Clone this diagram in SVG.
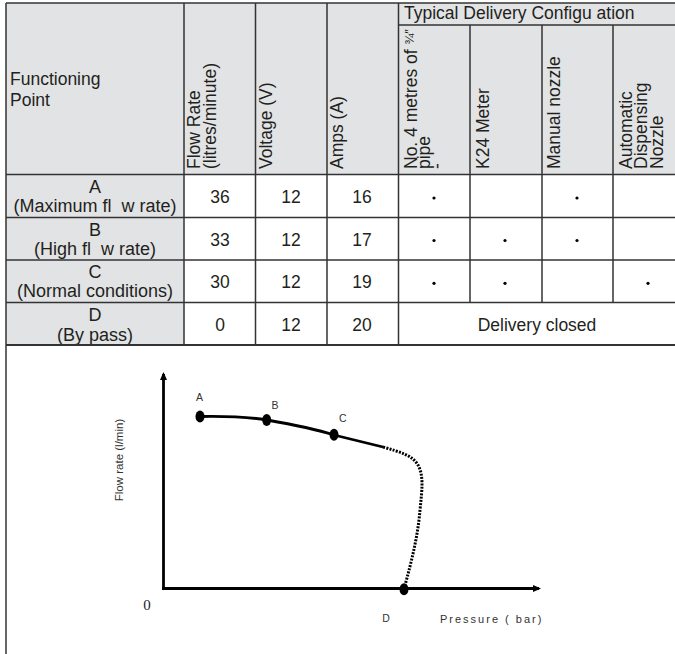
<svg xmlns="http://www.w3.org/2000/svg" width="675" height="654" viewBox="0 0 675 654">
<defs>
<style>
.t{font-family:"Liberation Sans",Arial,sans-serif;font-size:17.5px;fill:#231f20}
.r{font-size:18px}
.c{text-anchor:middle}
.g{stroke:#333;stroke-width:1.5;fill:none}
.ax{stroke:#000;stroke-width:2.8;fill:none}
.lbl{font-family:"Liberation Sans",Arial,sans-serif;font-size:10.5px;fill:#333;text-anchor:middle}
.dot{fill:#000}
</style>
<marker id="arr" markerWidth="8" markerHeight="8" refX="6" refY="4" orient="auto" markerUnits="userSpaceOnUse">
<path d="M0,0.5 L8,4 L0,7.5 Z" fill="#000"/>
</marker>
</defs>
<rect x="0" y="0" width="675" height="654" fill="#fff"/>
<g id="table">
<rect x="6" y="3" width="669" height="171" fill="#e2e3e5"/>
<rect x="6" y="174" width="178" height="171" fill="#e2e3e5"/>
<rect x="184" y="174" width="491" height="171" fill="#fff"/>
<g class="g">
<line x1="6" y1="3" x2="675" y2="3"/>
<line x1="6" y1="3" x2="6" y2="654"/>
<line x1="398" y1="25" x2="675" y2="25"/>
<line x1="6" y1="174.5" x2="675" y2="174.5"/>
<line x1="6" y1="217.5" x2="675" y2="217.5"/>
<line x1="6" y1="260" x2="675" y2="260"/>
<line x1="6" y1="302.5" x2="675" y2="302.5"/>
<line x1="184" y1="3" x2="184" y2="345"/>
<line x1="255.5" y1="3" x2="255.5" y2="345"/>
<line x1="327" y1="3" x2="327" y2="345"/>
<line x1="398.5" y1="3" x2="398.5" y2="345"/>
<line x1="470" y1="25" x2="470" y2="302.5"/>
<line x1="542" y1="25" x2="542" y2="302.5"/>
<line x1="613" y1="25" x2="613" y2="302.5"/>
</g>
<g id="header">
<text class="t" x="10" y="85">Functioning</text>
<text class="t" x="10" y="106">Point</text>
<text class="t" transform="translate(200,169) rotate(-90)">Flow Rate</text>
<text class="t" transform="translate(216,169) rotate(-90)">(litres/minute)</text>
<text class="t" transform="translate(272,169) rotate(-90)">Voltage (V)</text>
<text class="t" transform="translate(343,169) rotate(-90)">Amps (A)</text>
<text class="t" x="404" y="19">Typical Delivery Configu&#160;ation</text>
<text class="t" transform="translate(417,169) rotate(-90)">No. 4 metres of <tspan font-size="13" dy="-3">¾″</tspan></text>
<text class="t" transform="translate(430,169) rotate(-90)">pipe</text>
<text class="t" transform="translate(443,169) rotate(-90)">-</text>
<text class="t" transform="translate(489,169) rotate(-90)">K24 Meter</text>
<text class="t" transform="translate(560,169) rotate(-90)">Manual nozzle</text>
<text class="t" transform="translate(632,169) rotate(-90)">Automatic</text>
<text class="t" transform="translate(647,169) rotate(-90)">Dispensing</text>
<text class="t" transform="translate(663,169) rotate(-90)">Nozzle</text>
</g>
<g id="rowA">
<text class="t r c" x="95" y="193">A</text>
<text class="t r c" x="95" y="212">(Maximum fl&#160;&#160;w rate)</text>
<text class="t c" x="220" y="203">36</text>
<text class="t c" x="291" y="203">12</text>
<text class="t c" x="362" y="203">16</text>
<circle class="dot" cx="434" cy="198" r="1.6"/>
<circle class="dot" cx="577" cy="198" r="1.6"/>
</g>
<g id="rowB">
<text class="t r c" x="95" y="236">B</text>
<text class="t r c" x="95" y="255">(High fl&#160;&#160;w rate)</text>
<text class="t c" x="220" y="245.5">33</text>
<text class="t c" x="291" y="245.5">12</text>
<text class="t c" x="362" y="245.5">17</text>
<circle class="dot" cx="434" cy="240.5" r="1.6"/>
<circle class="dot" cx="505" cy="240.5" r="1.6"/>
<circle class="dot" cx="577" cy="240.5" r="1.6"/>
</g>
<g id="rowC">
<text class="t r c" x="95" y="278">C</text>
<text class="t r c" x="95" y="297">(Normal conditions)</text>
<text class="t c" x="220" y="288">30</text>
<text class="t c" x="291" y="288">12</text>
<text class="t c" x="362" y="288">19</text>
<circle class="dot" cx="434" cy="283.3" r="1.6"/>
<circle class="dot" cx="505" cy="283.3" r="1.6"/>
<circle class="dot" cx="648" cy="283.3" r="1.6"/>
</g>
<g id="rowD">
<text class="t r c" x="95" y="321">D</text>
<text class="t r c" x="95" y="341">(By pass)</text>
<text class="t c" x="220" y="330.5">0</text>
<text class="t c" x="291" y="330.5">12</text>
<text class="t c" x="362" y="330.5">20</text>
<text class="t c" x="537" y="330.5">Delivery closed</text>
</g>
<rect x="7" y="345" width="668" height="309" fill="#fff"/>
<line class="g" x1="6" y1="345" x2="675" y2="345" style="stroke-width:1.8"/>
</g>
<g id="chart">
<g id="connectors">
<line class="ax" x1="163.5" y1="589" x2="163.5" y2="374" marker-end="url(#arr)"/>
<line class="ax" x1="162" y1="588.5" x2="539" y2="588.5" marker-end="url(#arr)"/>
<path d="M200,416.5 C230,416 255,418 267,420 C290,424 312,428 334,435 L383,447" fill="none" stroke="#000" stroke-width="2.8"/>
<path d="M383,447 C400,452 412,455 418,465 C424,476 422,490 420,510 C418,535 412,560 404,589" fill="none" stroke="#000" stroke-width="3" stroke-dasharray="2 1.3"/>
</g>
<g id="pointA"><ellipse cx="200" cy="416.5" rx="4.5" ry="6"/><text class="lbl" x="199.5" y="400.5">A</text></g>
<g id="pointB"><ellipse cx="266.7" cy="420" rx="4.5" ry="6"/><text class="lbl" x="275" y="409">B</text></g>
<g id="pointC"><ellipse cx="334" cy="434.7" rx="4.5" ry="6"/><text class="lbl" x="342.7" y="421.5">C</text></g>
<g id="pointD"><ellipse cx="404" cy="589.3" rx="4.5" ry="6"/><text class="lbl" x="386" y="622">D</text></g>
<text font-family="Liberation Sans, Arial, sans-serif" font-size="11.5" fill="#333" text-anchor="middle" transform="translate(123,460) rotate(-90)">Flow rate (l/min)</text>
<text font-family="Liberation Serif, Times New Roman, serif" font-size="15" fill="#222" text-anchor="middle" x="147" y="610">0</text>
<text font-family="Liberation Sans, Arial, sans-serif" font-size="11" fill="#333" letter-spacing="2" x="440" y="622.5">Pressure ( bar)</text>
</g>
</svg>
